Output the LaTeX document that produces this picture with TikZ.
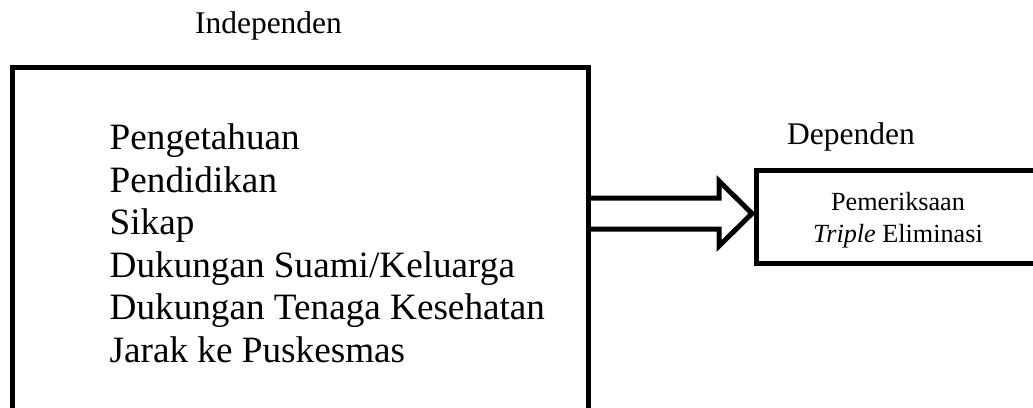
\documentclass[tikz,border=0pt]{standalone}
\usepackage{fontspec}
\setmainfont{Liberation Serif}
\begin{document}
\begin{tikzpicture}[x=1pt,y=-1pt,
  frame/.style={draw=black, line width=5pt, line join=miter, inner sep=0pt, outer sep=0pt},
  item/.style={anchor=base west, inner sep=0pt, font=\fontsize{37.2}{42.6}\selectfont},
  heading/.style={anchor=base, inner sep=0pt, font=\fontsize{31.5}{36}\selectfont},
  small/.style={anchor=base, inner sep=0pt, font=\fontsize{26.2}{30}\selectfont},
  hollow/.style={draw=black, line width=5pt, line join=miter}]
\useasboundingbox (0,0) rectangle (1033,407);

% headings
\node[heading] (hindep) at (268.5,33) {Independen};
\node[heading] (hdep) at (851,144) {Dependen};

% independent variables box (open towards the bottom)
\node[frame, anchor=north west, minimum width=575.5pt, minimum height=380pt] (indep) at (12.5,67.5) {};
\node[item] (v1) at (109.5,149.5) {Pengetahuan};
\node[item] (v2) at (109.5,192) {Pendidikan};
\node[item] (v3) at (109.5,234.5) {Sikap};
\node[item] (v4) at (109.5,277) {Dukungan Suami/Keluarga};
\node[item] (v5) at (109.5,319.5) {Dukungan Tenaga Kesehatan};
\node[item] (v6) at (109.5,362) {Jarak ke Puskesmas};

% dependent variable box (open towards the right)
\node[frame, line width=4.5pt, anchor=north west, minimum width=330pt, minimum height=93pt] (dep) at (756.5,170.5) {};
\node[small] (d1) at (898,210) {Pemeriksaan};
\node[small] (d2) at (898,242) {\textit{Triple} Eliminasi};

% hollow block arrow from the independent to the dependent box
\coordinate (tip) at (752,213.5);
\draw[hollow] (indep.north east |- 0,198) -- (719,198) -- (719,181) -- (tip)
  -- (719,246) -- (719,229) -- (indep.north east |- 0,229);
\end{tikzpicture}
\end{document}
